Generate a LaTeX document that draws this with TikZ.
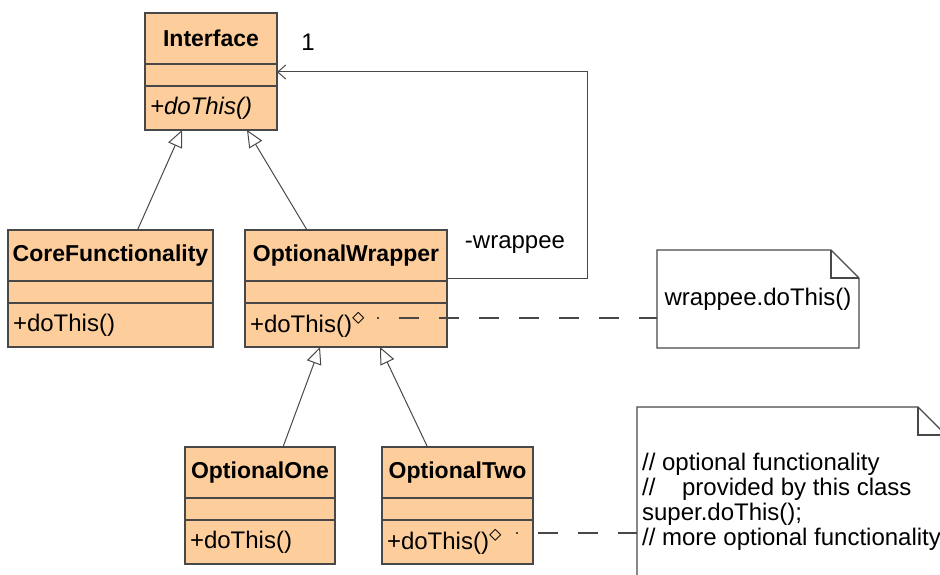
\documentclass[tikz,border=0pt]{standalone}
\usepackage{fontspec}
\setmainfont{Liberation Sans}
\usetikzlibrary{positioning,arrows.meta}
\definecolor{umlfill}{RGB}{253,205,155}
\definecolor{umlline}{RGB}{72,72,72}
\tikzstyle{clsname}=[draw=umlline, fill=umlfill, line width=1.2pt, inner sep=0pt, outer sep=0pt, minimum height=51pt, font=\fontsize{23}{25}\selectfont\bfseries]
\tikzstyle{clsattr}=[draw=umlline, fill=umlfill, line width=1.2pt, inner sep=0pt, outer sep=0pt, minimum height=22pt]
\tikzstyle{clsop}=[draw=umlline, fill=umlfill, line width=1.2pt, inner xsep=5pt, inner ysep=0pt, outer sep=0pt, minimum height=44pt, align=left]
\tikzstyle{notebox}=[fill=white, inner sep=3pt, outer sep=0pt]
\tikzstyle{gen}=[draw=umlline, line width=1pt, -{Triangle[open, length=17pt, width=15pt]}]
\tikzstyle{assoc}=[draw=umlline, line width=1pt, -{Straight Barb[length=8pt, width=14pt]}]
\tikzstyle{noteline}=[draw=umlline, line width=1.3pt, dash pattern=on 20pt off 20pt, dash phase=18pt]
\tikzstyle{noteedge}=[draw=umlline, line width=1.2pt]
\newcommand{\notemark}{\raisebox{8pt}{\fontsize{28}{28}\selectfont$\diamond$}}

\begin{document}
\begin{tikzpicture}[x=1pt, y=-1pt, font=\fontsize{24}{25}\selectfont]
   \useasboundingbox (0,0) rectangle (940,575);
   \clip (0,0) rectangle (940,575);
   % classes
   \node[clsname, minimum width=132pt] (iface) at (211,38.5) {Interface};
   \node[clsattr, minimum width=132pt, below=0pt of iface] (iface-a) {};
   \node[clsop, text width=122pt, below=0pt of iface-a] (iface-o) {\textit{+doThis()}};
   \node[clsname, minimum width=205pt] (core) at (110.5,255.5) {CoreFunctionality};
   \node[clsattr, minimum width=205pt, below=0pt of core] (core-a) {};
   \node[clsop, text width=195pt, below=0pt of core-a] (core-o) {+doThis()};
   \node[clsname, minimum width=202pt, right=32pt of core] (wrap) {OptionalWrapper};
   \node[clsattr, minimum width=202pt, below=0pt of wrap] (wrap-a) {};
   \node[clsop, text width=192pt, below=0pt of wrap-a] (wrap-o) {+doThis()\notemark};
   \node[clsname, minimum width=150pt] (one) at (260,472.5) {OptionalOne};
   \node[clsattr, minimum width=150pt, below=0pt of one] (one-a) {};
   \node[clsop, text width=140pt, below=0pt of one-a] (one-o) {+doThis()};
   \node[clsname, minimum width=151pt, right=47pt of one] (two) {OptionalTwo};
   \node[clsattr, minimum width=151pt, below=0pt of two] (two-a) {};
   \node[clsop, text width=141pt, below=0pt of two-a] (two-o) {+doThis()\notemark};
   % notes
   \node[notebox, minimum width=202pt, minimum height=98pt] (note1) at (758,299) {wrappee.doThis()};
   \draw[noteedge] (note1.north west) -- ([xshift=-28pt]note1.north east) -- ([yshift=-28pt]note1.north east) -- (note1.south east) -- (note1.south west) -- cycle;
   \draw[noteedge] ([xshift=-28pt]note1.north east) |- ([yshift=-28pt]note1.north east);
   \node[notebox, anchor=north west, minimum width=309pt, minimum height=190pt, align=left] (note2) at (637,407) {// optional functionality\\//\ \ \ \ provided by this class\\super.doThis();\\// more optional functionality};
   \draw[noteedge] (note2.north west) -- ([xshift=-28pt]note2.north east) -- ([yshift=-28pt]note2.north east) -- (note2.south east) -- (note2.south west) -- cycle;
   \draw[noteedge] ([xshift=-28pt]note2.north east) |- ([yshift=-28pt]note2.north east);
   % links
   \path
    ([xshift=27pt]core.north) edge[gen] ([xshift=-29pt]iface-o.south)
    ([xshift=-39pt]wrap.north) edge[gen] ([xshift=36pt]iface-o.south)
    ([xshift=23pt]one.north) edge[gen] ([xshift=-26pt]wrap-o.south)
    ([xshift=-30pt]two.north) edge[gen] ([xshift=34pt]wrap-o.south);
   \draw[assoc] ([yshift=3pt]wrap.south east) -- ++(140,0) |- ([yshift=3pt]iface-a.east);
   \node (mult) at (308,42) {1};
   \node (role) at (515,245) {-wrappee};
   \coordinate (wdot) at (377,318);
   \coordinate (tdot) at (516,533);
   \draw[noteline] (wdot) -- (wdot -| note1.west);
   \draw[noteline] (tdot) -- (tdot -| note2.west);
\end{tikzpicture}
\end{document}
